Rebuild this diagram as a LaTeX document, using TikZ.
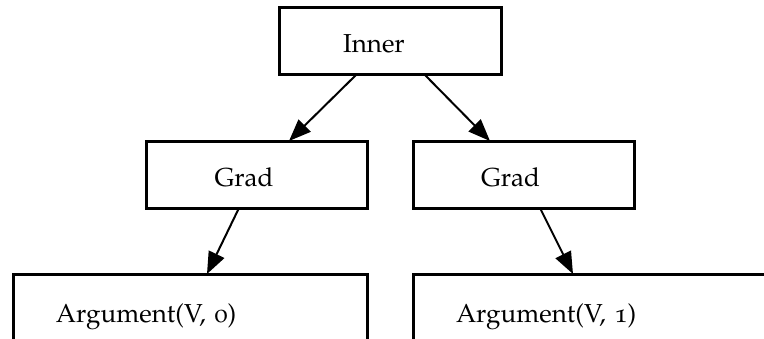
\documentclass[tikz,border=0pt]{standalone}
\usepackage[T1]{fontenc}
\usepackage[osf]{mathpazo}
\usepackage{tikz}
\usetikzlibrary{arrows.meta}
\tikzset{
  box/.style={rectangle, draw, line width=3pt, outer sep=0pt, align=left,
              font=\fontsize{26}{30}\selectfont, minimum height=67pt,
              inner ysep=0pt, text height=26pt, text depth=2pt},
  topbox/.style={box, inner xsep=64pt, text width=94pt},
  gbox/.style={box, inner xsep=68pt, text width=85pt},
  abox/.style={box, inner xsep=43pt, text width=268pt, minimum height=72pt},
  arr/.style={-{Triangle[length=22pt, width=17pt]}, line width=2pt}
}

\begin{document}
\begin{tikzpicture}[x=1pt, y=1pt]
  \clip (0,0) rectangle (764,-338);
  \node[topbox] (inner) at (390,-40.5) {Inner};
  \node[gbox] (gradl) at (257,-174.5) {Grad};
  \node[gbox] (gradr) at (523.5,-174.5) {Grad};
  \node[abox] (argl) at (190,-310) {Argument(V, 0)};
  \node[abox] (argr) at (590,-310) {Argument(V, 1)};
  \draw[arr] ([xshift=-33pt]inner.south) -- ([xshift=32pt]gradl.north);
  \draw[arr] ([xshift=34pt]inner.south) -- ([xshift=-33.5pt]gradr.north);
  \draw[arr] ([xshift=-18pt]gradl.south) -- ([xshift=17pt]argl.north);
  \draw[arr] ([xshift=16.5pt]gradr.south) -- ([xshift=-17pt]argr.north);
\end{tikzpicture}
\end{document}
